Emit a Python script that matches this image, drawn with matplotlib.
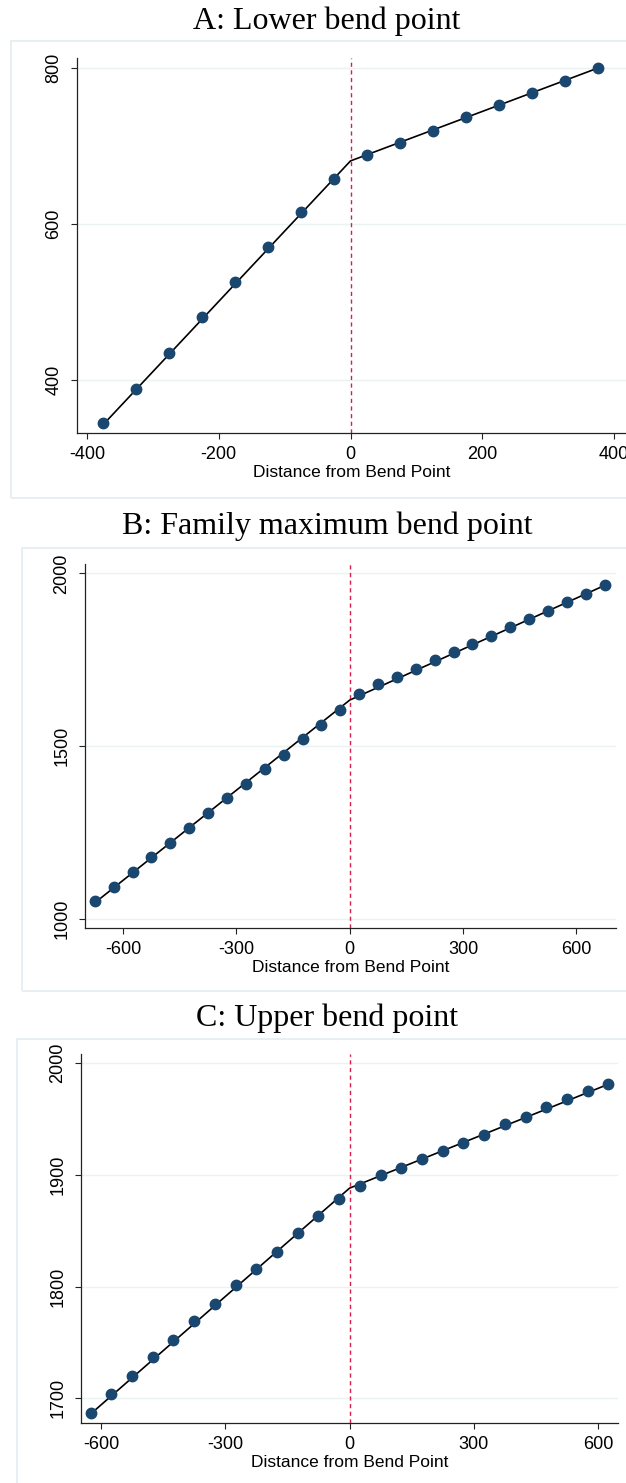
import numpy as np
import matplotlib
matplotlib.use("Agg")
import matplotlib.pyplot as plt
from matplotlib.patches import Rectangle

# ---- data ----
titles = ["A: Lower bend point", "B: Family maximum bend point", "C: Upper bend point"]

a_x = [-375, -325, -275, -225, -175, -125, -75, -25, 25, 75, 125, 175, 225, 275, 325, 375]
a_y = [345, 389, 435, 481, 526, 571, 616, 658, 688, 704, 720, 737, 753, 768, 784, 800]
a_fit_x = [-375, 0, 375]
a_fit_y = [343, 681, 800]

b_x = [-675, -625, -575, -525, -475, -425, -375, -325, -275, -225, -175, -125, -75, -25,
       25, 75, 125, 175, 225, 275, 325, 375, 425, 475, 525, 575, 625, 675]
b_y = [1050, 1092, 1135, 1178, 1220, 1263, 1306, 1348, 1390, 1434, 1475, 1519, 1560, 1604,
       1652, 1679, 1700, 1724, 1750, 1772, 1796, 1819, 1844, 1868, 1892, 1918, 1939, 1965]
b_fit_x = [-675, 0, 675]
b_fit_y = [1046, 1633, 1965]

c_x = [-625, -575, -525, -475, -425, -375, -325, -275, -225, -175, -125, -75, -25,
       25, 75, 125, 175, 225, 275, 325, 375, 425, 475, 525, 575, 625]
c_y = [1687, 1704, 1720, 1737, 1752, 1769, 1784, 1801, 1816, 1831, 1848, 1863, 1878,
       1890, 1900, 1906, 1914, 1921, 1928, 1936, 1945, 1952, 1961, 1968, 1975, 1981]
c_fit_x = [-625, 0, 625]
c_fit_y = [1686, 1888, 1981]

a_xticks = [-400, -200, 0, 200, 400]
a_yticks = [400, 600, 800]
b_xticks = [-600, -300, 0, 300, 600]
b_yticks = [1000, 1500, 2000]
c_xticks = [-600, -300, 0, 300, 600]
c_yticks = [1700, 1800, 1900, 2000]

xlabel = "Distance from Bend Point"

plt.rcParams["axes.unicode_minus"] = False

W, H = 626, 1483
fig = plt.figure(figsize=(W / 100, H / 100), dpi=100)
fig.patch.set_facecolor("white")

sans = ["Liberation Sans", "DejaVu Sans"]
serif = ["Liberation Serif", "DejaVu Serif"]
navy = "#1a476f"
frame = "#e6eef1"


def fig_rect(l, t, r, b):
    return [l / W, 1 - b / H, (r - l) / W, (b - t) / H]


def panel(box, axbox, title_y, title, x, y, fx, fy, xt, yt, xlim, ylim):
    l, t, r, b = box
    fig.patches.append(Rectangle((l / W, 1 - b / H), (r - l) / W, (b - t) / H,
                                 transform=fig.transFigure, fill=False,
                                 edgecolor=frame, linewidth=1.3))
    fig.text(327 / W, 1 - title_y / H, title, ha="center", va="center",
             fontsize=23, family=serif)
    ax = fig.add_axes(fig_rect(*axbox))
    ax.set_facecolor("none")
    ax.set_xlim(*xlim)
    ax.set_ylim(*ylim)
    ax.set_xticks(xt)
    ax.set_yticks(yt)
    ax.set_yticklabels([str(v) for v in yt], rotation=90, va="center")
    ax.grid(axis="y", color="#eaf2f3", linewidth=1.0)
    ax.set_axisbelow(True)
    for s in ["top", "right"]:
        ax.spines[s].set_visible(False)
    for s in ["left", "bottom"]:
        ax.spines[s].set_color("#222222")
        ax.spines[s].set_linewidth(0.9)
    ax.tick_params(length=4.5, width=0.8, color="#222222", labelsize=13)
    ax.tick_params(axis="x", pad=5)
    ax.tick_params(axis="y", pad=6)
    for lab in ax.get_xticklabels() + ax.get_yticklabels():
        lab.set_family(sans)
    ax.set_xlabel(xlabel, fontsize=12.5, family=sans, labelpad=1)
    ax.axvline(0, color="#d81e4e", linestyle=(0, (3, 2.5)), linewidth=1.0, zorder=1)
    ax.plot(fx, fy, color="black", linewidth=1.2, zorder=2)
    ax.plot(x, y, "o", color=navy, markersize=7.5, zorder=3)
    return ax


panel((11, 41, 640, 498), (77, 58, 626, 433), 21, titles[0],
      a_x, a_y, a_fit_x, a_fit_y, a_xticks, a_yticks, (-415, 418), (332, 813))
panel((22, 548, 640, 991), (85, 564, 616, 928), 526, titles[1],
      b_x, b_y, b_fit_x, b_fit_y, b_xticks, b_yticks, (-701, 705), (973, 2027))
panel((17, 1039, 640, 1500), (81, 1054, 618, 1423), 1018, titles[2],
      c_x, c_y, c_fit_x, c_fit_y, c_xticks, c_yticks, (-648, 648), (1678, 2008))

fig.savefig("out.png", dpi=100, facecolor="white")
